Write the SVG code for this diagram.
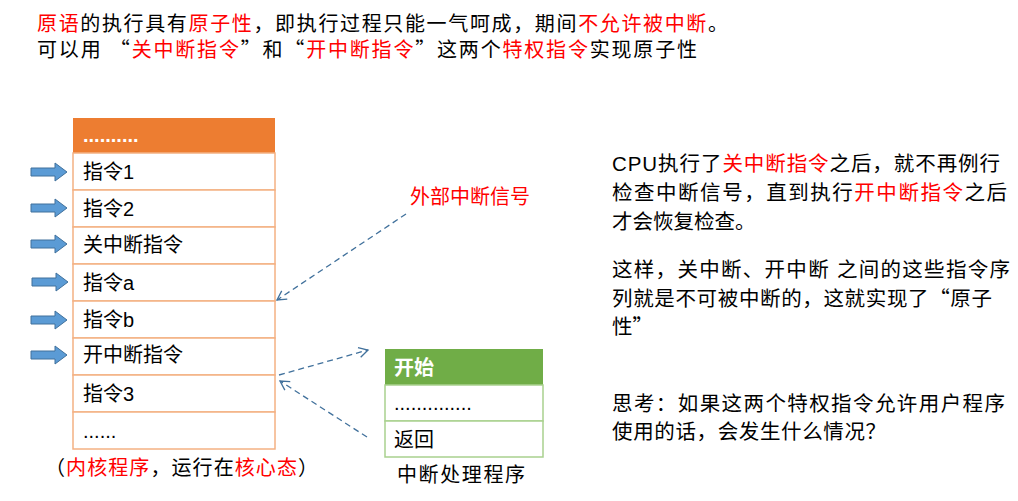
<svg xmlns="http://www.w3.org/2000/svg" width="1018" height="501" viewBox="0 0 1018 501">
<style>
text{font-family:"Liberation Sans","Noto Sans CJK SC",sans-serif;font-size:20px;fill:#000}
.n{font-size:20.5px}
.q{font-family:"Noto Sans CJK SC",sans-serif}
.r{fill:#ff0000}
.w{fill:#fff}
.row{fill:#fff;stroke:#f4b183;stroke-width:1.5}
.rowg{fill:#fff;stroke:#a9d18e;stroke-width:1.5}
.blk{fill:#5b9bd5;stroke:#41719c;stroke-width:1}
.d{stroke:#41719c;stroke-width:1.3;stroke-dasharray:6,4;fill:none;marker-end:url(#ah)}
</style>
<defs>
<marker id="ah" markerWidth="12" markerHeight="12" refX="10" refY="6" orient="auto" markerUnits="userSpaceOnUse">
<path d="M1,1 L10,6 L1,11" fill="none" stroke="#41719c" stroke-width="1.3"/>
</marker>
<path id="ba" d="M0,-4 L24,-4 L24,-9 L36,0 L24,9 L24,4 L0,4 Z"/>
</defs>
<text x="37" y="31" textLength="691"><tspan class="r">原语</tspan>的执行具有<tspan class="r">原子性</tspan>，即执行过程只能一气呵成，期间<tspan class="r">不允许被中断</tspan>。</text>
<text x="37" y="57" textLength="660">可以用 <tspan class="q">“</tspan><tspan class="r">关中断指令</tspan><tspan class="q">”</tspan>和<tspan class="q">“</tspan><tspan class="r">开中断指令</tspan><tspan class="q">”</tspan>这两个<tspan class="r">特权指令</tspan>实现原子性</text>
<g id="kernel">
<rect x="73" y="118" width="202" height="35" fill="#ed7d31"/>
<text x="83" y="142" class="w" style="font-weight:bold">..........</text>
<rect class="row" x="73" y="153" width="202" height="37"/><text x="83" y="179">指令1</text>
<rect class="row" x="73" y="190" width="202" height="37"/><text x="83" y="216">指令2</text>
<rect class="row" x="73" y="227" width="202" height="37"/><text x="83" y="252">关中断指令</text>
<rect class="row" x="73" y="264" width="202" height="37"/><text x="83" y="290">指令a</text>
<rect class="row" x="73" y="301" width="202" height="37"/><text x="83" y="327">指令b</text>
<rect class="row" x="73" y="338" width="202" height="37"/><text x="83" y="362">开中断指令</text>
<rect class="row" x="73" y="375" width="202" height="37"/><text x="83" y="401">指令3</text>
<rect class="row" x="73" y="412" width="202" height="37"/><text x="83" y="438">......</text>
<text x="45" y="475" textLength="273">（<tspan class="r">内核程序</tspan>，运行在<tspan class="r">核心态</tspan>）</text>
</g>
<g id="pointers">
<use href="#ba" class="blk" x="31" y="172"/>
<use href="#ba" class="blk" x="31" y="208"/>
<use href="#ba" class="blk" x="31" y="244"/>
<use href="#ba" class="blk" x="32" y="282"/>
<use href="#ba" class="blk" x="31" y="320"/>
<use href="#ba" class="blk" x="31" y="355"/>
</g>
<g id="handler">
<rect x="385" y="349" width="158" height="36" fill="#70ad47"/>
<text x="394" y="375" class="w" style="font-weight:bold">开始</text>
<rect class="rowg" x="385" y="385" width="158" height="36"/><text x="394" y="410">..............</text>
<rect class="rowg" x="385" y="421" width="158" height="36"/><text x="394" y="447">返回</text>
<text x="397" y="482" textLength="128">中断处理程序</text>
</g>
<g id="signal"><text x="410" y="204" class="r" textLength="120">外部中断信号</text></g>
<g id="connectors">
<path class="d" d="M406,214 L277,300"/>
<path class="d" d="M279,375 L368,350"/>
<path class="d" d="M367,437 L280,381"/>
</g>
<g id="notes">
<text class="n" x="612" y="171" textLength="388">CPU执行了<tspan class="r">关中断指令</tspan>之后，就不再例行</text>
<text class="n" x="612" y="200" textLength="395">检查中断信号，直到执行<tspan class="r">开中断指令</tspan>之后</text>
<text class="n" x="612" y="229">才会恢复检查。</text>
<text class="n" x="612" y="277" textLength="398">这样，关中断、开中断 之间的这些指令序</text>
<text class="n" x="612" y="306" textLength="380">列就是不可被中断的，这就实现了<tspan class="q">“</tspan>原子</text>
<text class="n" x="612" y="334">性<tspan class="q">”</tspan></text>
<text class="n" x="612" y="411" textLength="393">思考：如果这两个特权指令允许用户程序</text>
<text class="n" x="612" y="439" textLength="274">使用的话，会发生什么情况？</text>
</g>
</svg>
